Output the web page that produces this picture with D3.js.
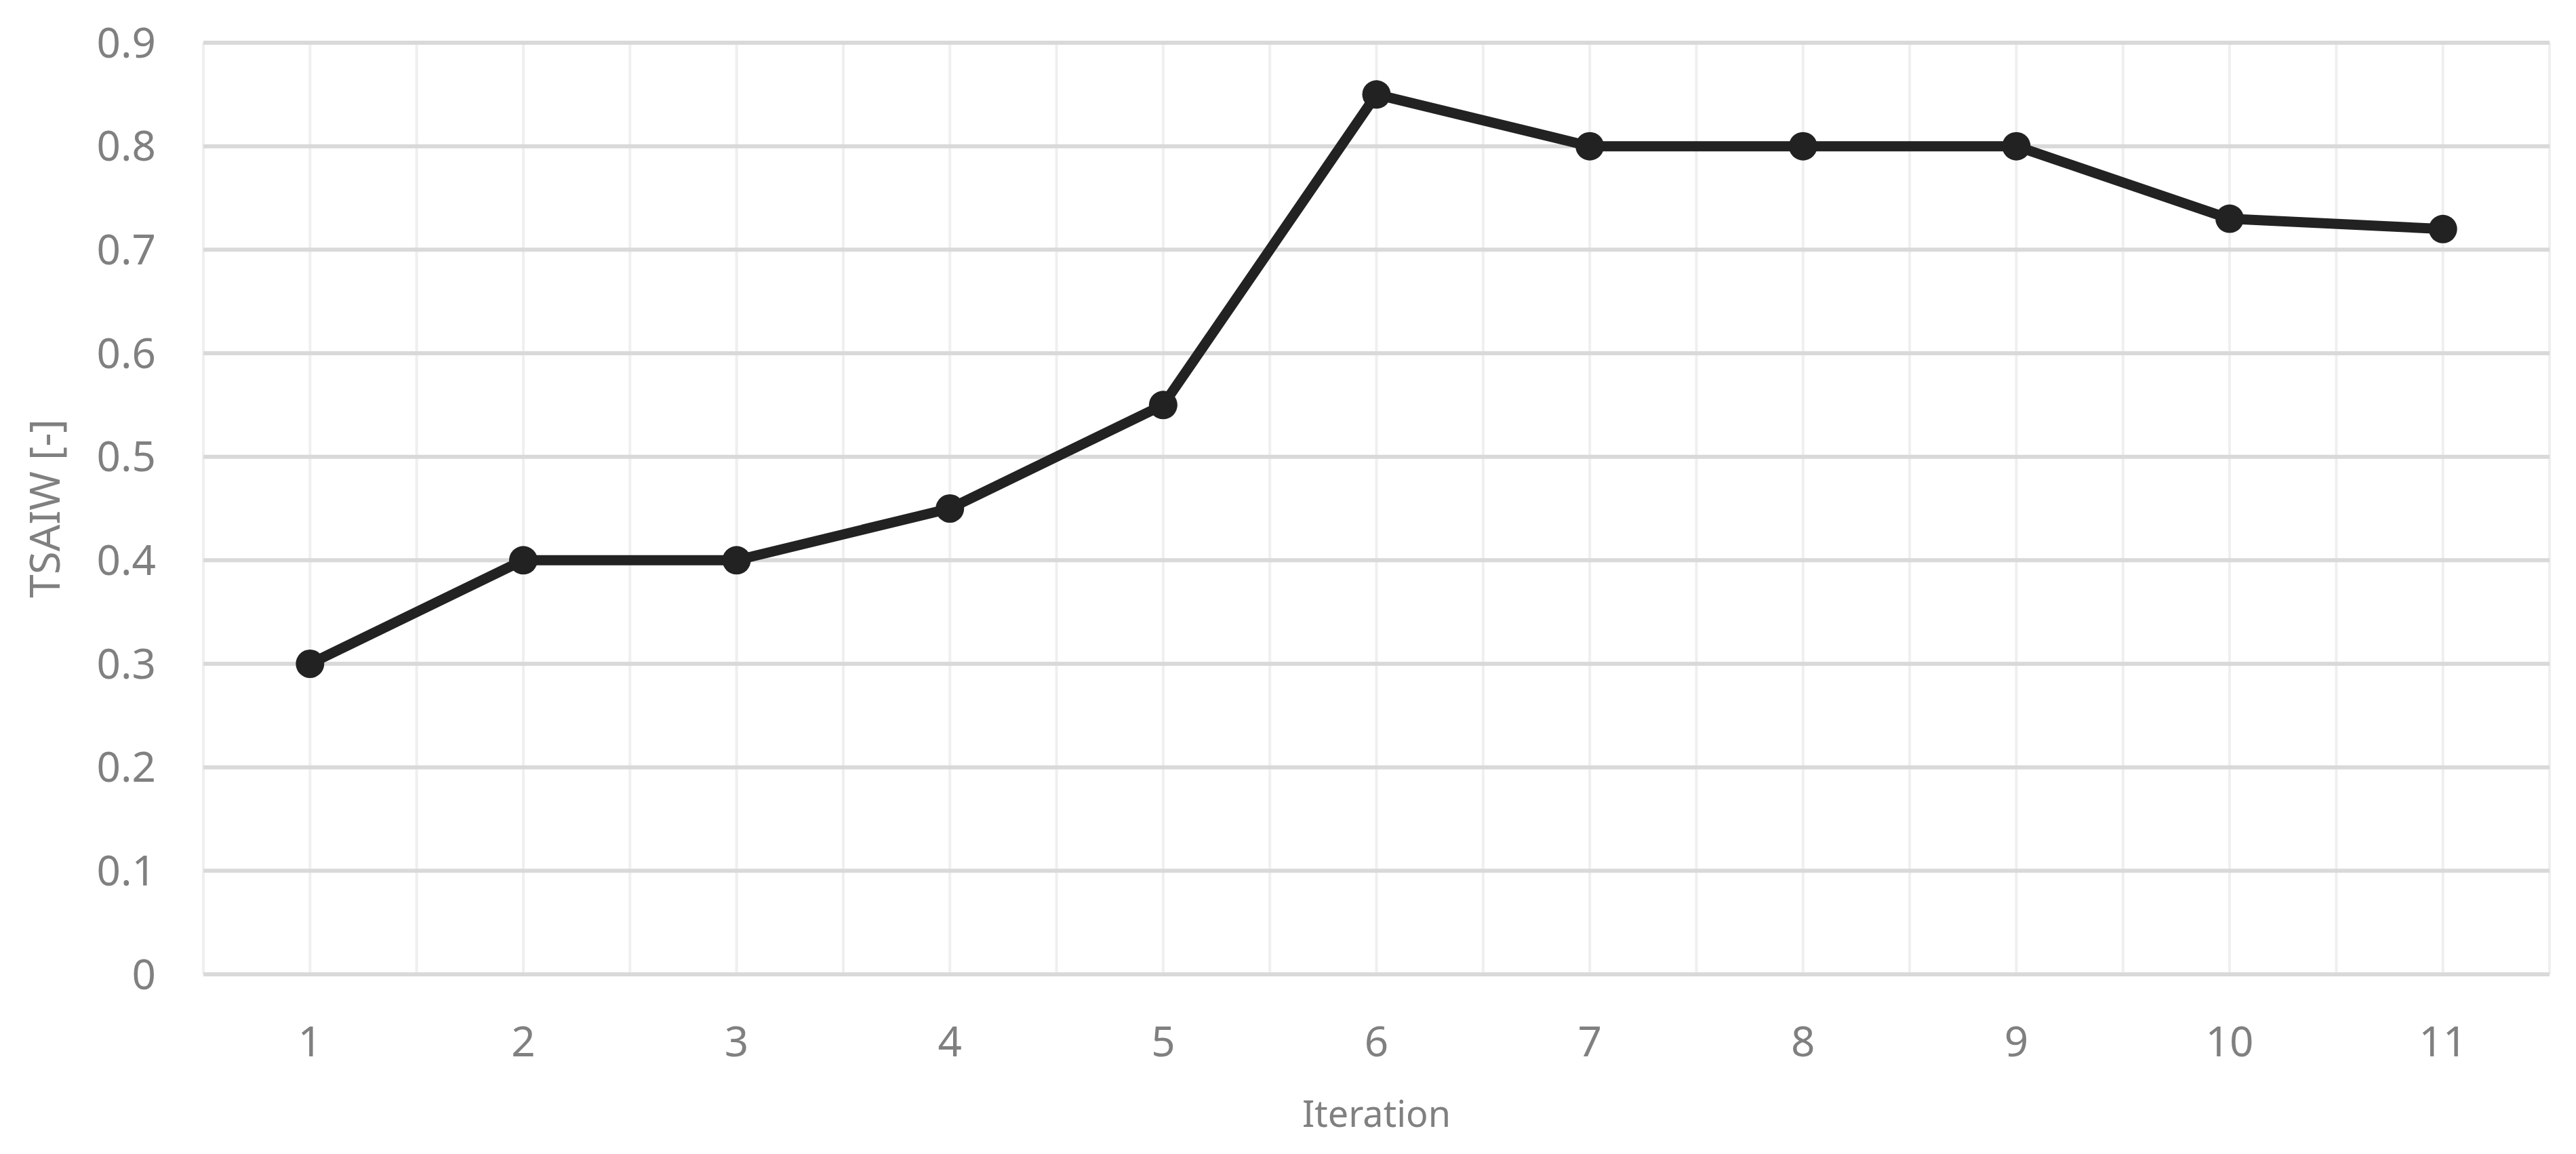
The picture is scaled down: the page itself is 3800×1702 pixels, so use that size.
<!DOCTYPE html>
<html>
<head>
<meta charset="utf-8">
<script src="https://cdn.jsdelivr.net/npm/d3@7"></script>
<style>
  body { margin: 0; background: #fff; }
  text { font-family: "Noto Sans", "Open Sans", sans-serif; }
</style>
</head>
<body>
<svg id="chart" width="3800" height="1702"></svg>
<script>
const iterations = [1, 2, 3, 4, 5, 6, 7, 8, 9, 10, 11];
const tsaiw = [0.30, 0.40, 0.40, 0.45, 0.55, 0.85, 0.80, 0.80, 0.80, 0.73, 0.72];
const yTicks = [0, 0.1, 0.2, 0.3, 0.4, 0.5, 0.6, 0.7, 0.8, 0.9];

const svg = d3.select("#chart");
const plotLeft = 300, plotRight = 3761, plotTop = 63, plotBottom = 1437;

const x = d3.scaleBand().domain(iterations).range([plotLeft, plotRight]);
const y = d3.scaleLinear().domain([0, 0.9]).range([plotBottom, plotTop]);
const cx = d => x(d) + x.bandwidth() / 2;

// vertical grid: band edges and centres
const vlines = [];
iterations.forEach(d => { vlines.push(x(d)); vlines.push(cx(d)); });
vlines.push(plotRight);
svg.append("g").selectAll("line").data(vlines).join("line")
  .attr("x1", d => d).attr("x2", d => d)
  .attr("y1", plotTop).attr("y2", plotBottom)
  .attr("stroke", "#efefef").attr("stroke-width", 4);

// horizontal grid
svg.append("g").selectAll("line").data(yTicks).join("line")
  .attr("x1", plotLeft).attr("x2", plotRight)
  .attr("y1", d => y(d)).attr("y2", d => y(d))
  .attr("stroke", "#d9d9d9").attr("stroke-width", 6);

// y tick labels
svg.append("g").selectAll("text").data(yTicks).join("text")
  .attr("x", 230).attr("y", d => y(d)).attr("dy", "0.35em")
  .attr("text-anchor", "end").attr("font-size", 62).attr("fill", "#808080")
  .text(d => d);

// x tick labels
svg.append("g").selectAll("text").data(iterations).join("text")
  .attr("x", d => cx(d)).attr("y", 1558)
  .attr("text-anchor", "middle").attr("font-size", 62).attr("fill", "#808080")
  .text(d => d);

svg.append("text").attr("x", (plotLeft + plotRight) / 2).attr("y", 1662)
  .attr("text-anchor", "middle").attr("font-size", 54).attr("fill", "#808080")
  .text("Iteration");

svg.append("text")
  .attr("transform", `translate(88,${(plotTop + plotBottom) / 2}) rotate(-90)`)
  .attr("text-anchor", "middle").attr("font-size", 62).attr("fill", "#808080")
  .text("TSAIW [-]");

const line = d3.line().x((d, i) => cx(iterations[i])).y(d => y(d));
svg.append("path").datum(tsaiw).attr("d", line)
  .attr("fill", "none").attr("stroke", "#222").attr("stroke-width", 15)
  .attr("stroke-linejoin", "round");

svg.append("g").selectAll("circle").data(tsaiw).join("circle")
  .attr("cx", (d, i) => cx(iterations[i])).attr("cy", d => y(d))
  .attr("r", 21).attr("fill", "#222");
</script>
</body>
</html>
